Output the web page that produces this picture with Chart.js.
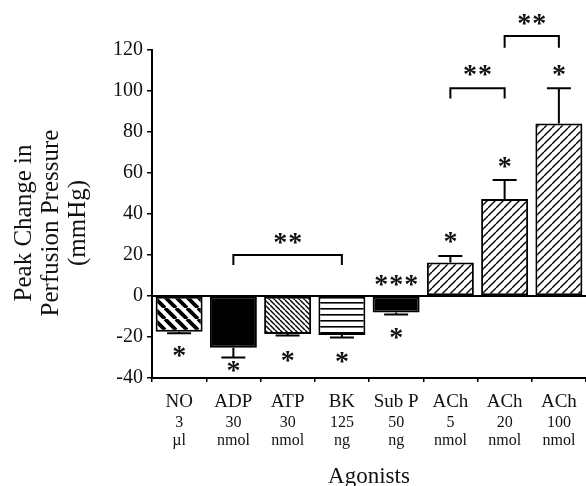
<!DOCTYPE html>
<html><head><meta charset="utf-8">
<script src="https://cdn.jsdelivr.net/npm/chart.js@4"></script>
<style>html,body{margin:0;padding:0;background:#fff;overflow:hidden}#wrap{width:586px;height:486px;position:relative}</style>
</head><body><div id="wrap"><canvas id="c" width="586" height="486"></canvas></div>
<script>
// ---- data ----
const agonists = ['NO','ADP','ATP','BK','Sub P','ACh','ACh','ACh'];
const doses = ['3','30','30','125','50','5','20','100'];
const units = ['\u00b5l','nmol','nmol','ng','ng','nmol','nmol','nmol'];
const peakChange = [-17.4,-25.2,-18.5,-19.0,-8.0,16.4,47.3,84.2];
const sem = [0.8,4.8,0.8,1.3,1.0,3.1,9.3,17.1];
const barSig = ['*','*','*','*','*','*','*','*'];
const yTicks = [-40,-20,0,20,40,60,80,100,120];
const yTitle = ['Peak Change in','Perfusion Pressure','(mmHg)'];
const xTitle = 'Agonists';
const fillKinds = ['wideBack','solid','fineBack','horiz','solid','fwd','fwd','fwd'];
// annotation placement (data units)
const barSigAt = [-27.3,-34.5,-29.3,-30,-18.2,28.3,64.9,110.2];
const extraMarks = [{idx:4, text:'***', at:7.5}];
const brackets = [
  {from:1,to:3,top:20,leg:15.1,text:'**',textAt:28.1},
  {from:5,to:6,top:101.3,leg:96.4,text:'**',textAt:110.2},
  {from:6,to:7,top:126.8,leg:121.1,text:'**',textAt:135.1}
];

const SERIF = 'Liberation Serif';

function makePattern(kind){
  if(kind==='solid') return '#000';
  const c=document.createElement('canvas');
  let w=8,h=8;
  if(kind==='wideBack'){w=h=11;}
  if(kind==='fineBack'){w=h=5;}
  if(kind==='horiz'){w=4;h=6;}
  if(kind==='fwd'){w=h=8;}
  c.width=w;c.height=h;
  const g=c.getContext('2d');
  g.fillStyle='#fff';g.fillRect(0,0,w,h);
  g.strokeStyle='#000';
  if(kind==='horiz'){
    g.fillStyle='#000';g.fillRect(0,2,w,1.6);
  } else {
    g.lineWidth = kind==='wideBack'?3.8:1.4;
    g.beginPath();
    for(let k=-1;k<=1;k++){
      if(kind==='fwd'){g.moveTo(k*w,h);g.lineTo(k*w+w,0);}
      else {g.moveTo(k*w,0);g.lineTo(k*w+w,h);}
    }
    g.stroke();
  }
  return g.createPattern(c,'repeat');
}

function drawStars(ctx,text,cx,cy){
  ctx.save();
  ctx.font='bold 28px '+SERIF;
  ctx.fillStyle='#111';
  ctx.textAlign='center';
  ctx.textBaseline='alphabetic';
  const m=ctx.measureText('*');
  const base=cy+(m.actualBoundingBoxAscent-m.actualBoundingBoxDescent)/2;
  const n=text.length, sp=15;
  for(let i=0;i<n;i++){
    ctx.fillText('*',cx+(i-(n-1)/2)*sp,base);
  }
  ctx.restore();
}

const overlay={
  id:'overlay',
  beforeDatasetsDraw(chart){
    const {ctx,chartArea,scales:{y}}=chart;
    const y0=y.getPixelForValue(0);
    ctx.save();ctx.strokeStyle='#000';ctx.lineWidth=2;
    ctx.beginPath();ctx.moveTo(chartArea.left,y0);ctx.lineTo(chartArea.right,y0);ctx.stroke();
    ctx.restore();
  },
  afterDatasetsDraw(chart){
    const {ctx,chartArea,scales:{x,y}}=chart;
    const meta=chart.getDatasetMeta(0);
    ctx.save();
    ctx.strokeStyle='#000';ctx.lineWidth=2;
    // error bars
    peakChange.forEach((v,i)=>{
      const bx=meta.data[i].x;
      const end=v<0?v-sem[i]:v+sem[i];
      const ya=y.getPixelForValue(v), yb=y.getPixelForValue(end);
      ctx.beginPath();ctx.moveTo(bx,ya);ctx.lineTo(bx,yb);
      ctx.moveTo(bx-12,yb);ctx.lineTo(bx+12,yb);ctx.stroke();
    });
    // significance stars
    barSig.forEach((s,i)=>{drawStars(ctx,s,meta.data[i].x,y.getPixelForValue(barSigAt[i]));});
    extraMarks.forEach(e=>drawStars(ctx,e.text,meta.data[e.idx].x,y.getPixelForValue(e.at)));
    // brackets
    ctx.lineWidth=2;
    brackets.forEach(b=>{
      const x1=meta.data[b.from].x,x2=meta.data[b.to].x;
      const yt=y.getPixelForValue(b.top),yl=y.getPixelForValue(b.leg);
      ctx.beginPath();ctx.moveTo(x1,yl);ctx.lineTo(x1,yt);ctx.lineTo(x2,yt);ctx.lineTo(x2,yl);ctx.stroke();
      drawStars(ctx,b.text,(x1+x2)/2,y.getPixelForValue(b.textAt));
    });
    ctx.restore();
  },
  afterDraw(chart){
    const {ctx,chartArea,scales:{x}}=chart;
    ctx.save();
    ctx.fillStyle='#111';
    ctx.textAlign='center';ctx.textBaseline='alphabetic';
    const bottom=chartArea.bottom;
    agonists.forEach((lab,i)=>{
      const px=x.getPixelForValue(i);
      ctx.font='19px '+SERIF;ctx.fillText(lab,px,bottom+28.5);
      ctx.font='16px '+SERIF;ctx.fillText(doses[i],px,bottom+48.5);
      ctx.fillText(units[i],px,bottom+67);
    });
    ctx.font='23px '+SERIF;
    ctx.fillText(xTitle,(chartArea.left+chartArea.right)/2,bottom+105);
    // y title
    const cy=223;
    ctx.font='25px '+SERIF;ctx.textBaseline='middle';
    const xs=[24,51.5,78];
    yTitle.forEach((t,i)=>{
      ctx.save();ctx.translate(xs[i],cy);ctx.rotate(-Math.PI/2);ctx.fillText(t,0,0);ctx.restore();
    });
    ctx.restore();
  }
};

new Chart(document.getElementById('c'),{
  type:'bar',
  data:{labels:agonists,datasets:[{
    data:peakChange,
    backgroundColor:fillKinds.map(makePattern),
    borderColor:'#000',borderWidth:2,borderSkipped:false,
    barPercentage:0.866,categoryPercentage:1
  }]},
  options:{
    responsive:false,animation:false,devicePixelRatio:1,
    layout:{padding:{left:0,right:0,top:50,bottom:0}},
    plugins:{legend:{display:false},tooltip:{enabled:false}},
    scales:{
      x:{offset:true,
        grid:{display:true,drawOnChartArea:false,drawTicks:true,tickLength:4,color:'#000',lineWidth:1.5,offset:true},
        border:{display:true,color:'#000',width:2},
        ticks:{display:false},
        afterFit(s){s.height=108;}
      },
      y:{min:-40,max:120,
        afterBuildTicks(s){s.ticks=yTicks.map(v=>({value:v}));},
        ticks:{font:{family:SERIF,size:20},color:'#111',padding:4},
        grid:{drawOnChartArea:false,tickLength:5,color:'#000',lineWidth:1.5},
        border:{color:'#000',width:2},
        afterFit(s){s.width=152;}
      }
    }
  },
  plugins:[overlay]
});
</script>
</body></html>
